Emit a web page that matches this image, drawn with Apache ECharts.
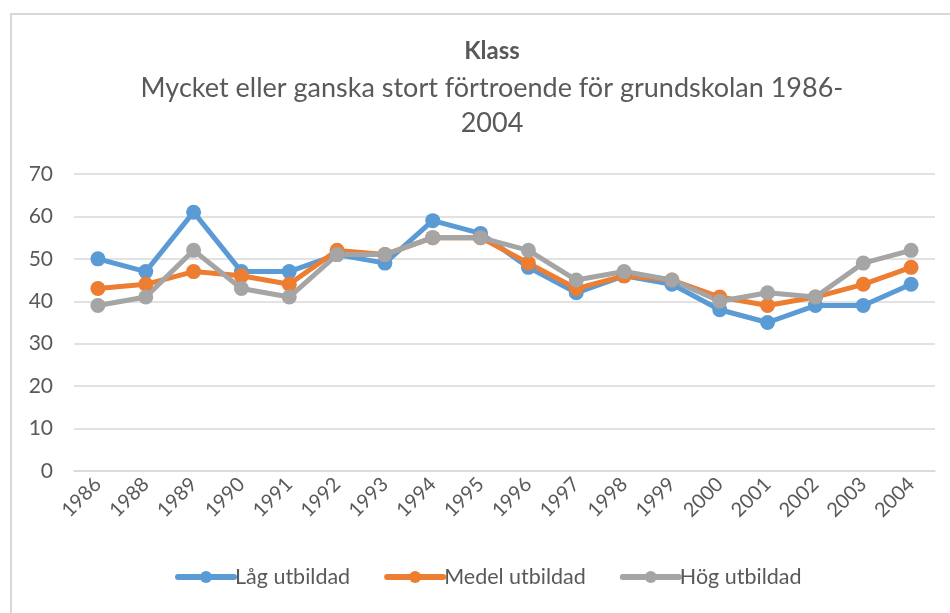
<!DOCTYPE html>
<html>
<head>
<meta charset="utf-8">
<script src="https://cdn.jsdelivr.net/npm/echarts@6/dist/echarts.min.js"></script>
<style>
  body { margin: 0; background: #fff; }
  #frame {
    position: absolute; left: 10px; top: 13px;
    width: 960px; height: 620px;
    border: 2px solid #d9d9d9;
  }
  #chart { position: absolute; left: 0; top: 0; width: 950px; height: 613px; }
</style>
</head>
<body>
<div id="frame"></div>
<div id="chart"></div>
<script>
// år
const years = ['1986', '1988', '1989', '1990', '1991', '1992', '1993', '1994', '1995',
  '1996', '1997', '1998', '1999', '2000', '2001', '2002', '2003', '2004'];

// andel med mycket/ganska stort förtroende (%)
const lagUtbildad = [50, 47, 61, 47, 47, 51, 49, 59, 56, 48, 42, 46, 44, 38, 35, 39, 39, 44];
const medelUtbildad = [43, 44, 47, 46, 44, 52, 51, 55, 55, 49, 43, 46, 45, 41, 39, 41, 44, 48];
const hogUtbildad = [39, 41, 52, 43, 41, 51, 51, 55, 55, 52, 45, 47, 45, 40, 42, 41, 49, 52];

const font = 'Lato, "Open Sans", sans-serif';

const chart = echarts.init(document.getElementById('chart'));

function lineSeries(name, data, color) {
  return {
    name: name,
    type: 'line',
    data: data,
    symbol: 'circle',
    symbolSize: 15,
    lineStyle: { width: 5, color: color },
    itemStyle: { color: color },
    emphasis: { disabled: true }
  };
}

chart.setOption({
  animation: false,
  title: {
    text: 'Klass',
    subtext: 'Mycket eller ganska stort förtroende för grundskolan 1986-\n2004',
    left: 487,
    textAlign: 'center',
    top: 34,
    itemGap: 8,
    textStyle: { fontFamily: font, fontSize: 24, fontWeight: 'bold', color: '#595959' },
    subtextStyle: { fontFamily: font, fontSize: 27, color: '#595959', lineHeight: 35, align: 'center' }
  },
  legend: {
    bottom: 20,
    left: 170,
    itemWidth: 56,
    itemHeight: 15,
    itemGap: 34,
    lineStyle: { width: 6, cap: 'round' },
    textStyle: { fontFamily: font, fontSize: 21.5, color: '#595959', padding: [0, 0, 0, -4] },
    data: ['Låg utbildad', 'Medel utbildad', 'Hög utbildad']
  },
  grid: { left: 74, right: 15, top: 174, bottom: 142 },
  xAxis: {
    type: 'category',
    data: years,
    boundaryGap: true,
    axisLine: { lineStyle: { color: '#d9d9d9', width: 1.5 } },
    axisTick: { show: false },
    axisLabel: { rotate: 45, fontFamily: font, fontSize: 20, color: '#595959', margin: 10 }
  },
  yAxis: {
    type: 'value',
    min: 0,
    max: 70,
    interval: 10,
    axisLine: { show: false },
    axisTick: { show: false },
    splitLine: { lineStyle: { color: '#d9d9d9', width: 1.5 } },
    axisLabel: { fontFamily: font, fontSize: 21, color: '#595959', margin: 21 }
  },
  series: [
    lineSeries('Låg utbildad', lagUtbildad, '#5b9bd5'),
    lineSeries('Medel utbildad', medelUtbildad, '#ed7d31'),
    lineSeries('Hög utbildad', hogUtbildad, '#a5a5a5')
  ]
});
</script>
</body>
</html>
